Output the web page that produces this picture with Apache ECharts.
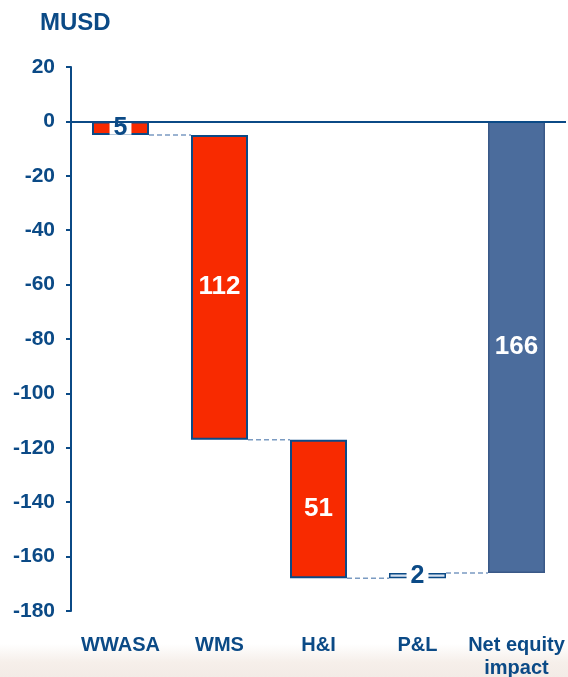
<!DOCTYPE html>
<html>
	<head>
		<meta charset="utf-8">
		<title>waterfall</title>
		<script src="https://cdn.jsdelivr.net/npm/echarts@6/dist/echarts.min.js"></script>
	</head>
	<body style="margin:0">
		<div id="box" style="width: 568px;height: 677px;"></div>
		<script>
			var mCharts = echarts.init(document.querySelector('#box'))

			// data
			var categories = ['WWASA', 'WMS', 'H&I', 'P&L', 'Net equity\nimpact']
			var changes = [-5, -112, -51, 2]
			var netImpact = -166
			var yMin = -180, yMax = 20, yStep = 20

			var dark = '#0b4a86'
			var font = 'Arial, "Liberation Sans", sans-serif'
			var barW = 57

			// waterfall: invisible base + visible bar
			var baseData = [], barData = [], levels = []
			var running = 0
			changes.forEach(function (c, i) {
				var fill = c < 0 ? '#f82a00' : '#d7e2f0'
				var smallBar = Math.abs(c) < 10
				if (c < 0) {
					baseData.push(running)
					running += c
				} else {
					running += c
					baseData.push(running)
				}
				levels.push(running)
				barData.push({
					value: -Math.abs(c),
					itemStyle: { color: fill, borderColor: dark, borderWidth: c > 0 ? 1.5 : 2 },
					label: smallBar ? {
						color: dark, fontSize: 25, backgroundColor: '#fff',
						padding: [0, 4], lineHeight: 13
					} : {}
				})
			})
			baseData.push(0)
			barData.push({
				value: netImpact,
				itemStyle: { color: '#4b6c9c', borderColor: '#3a5887', borderWidth: 1.5 }
			})

			var connectorData = levels.map(function (v, i) { return [i, v] })

			var option = {
				animation: false,
				title: {
					text: 'MUSD', left: 35, top: 6,
					textStyle: { color: dark, fontSize: 24, fontWeight: 'bold', fontFamily: font }
				},
				graphic: [{
					type: 'rect', z: -10, silent: true,
					shape: { x: 0, y: 644, width: 568, height: 33 },
					style: {
						fill: new echarts.graphic.LinearGradient(0, 0, 0, 1, [
							{ offset: 0, color: '#ffffff' },
							{ offset: 0.55, color: '#f6efea' },
							{ offset: 1, color: '#f3ebe6' }
						])
					}
				}],
				grid: { left: 71, right: 2, top: 67, bottom: 66, outerBoundsMode: 'none' },
				xAxis: {
					type: 'category',
					data: categories,
					axisLine: { show: false },
					axisTick: { show: false },
					axisLabel: {
						color: dark, fontSize: 20, fontWeight: 'bold', fontFamily: font,
						margin: 23, lineHeight: 23, interval: 0
					}
				},
				yAxis: {
					type: 'value',
					min: yMin, max: yMax, interval: yStep,
					axisLine: { show: true, lineStyle: { color: dark, width: 2 } },
					axisTick: { show: true, length: 5, lineStyle: { color: dark, width: 2 } },
					splitLine: { show: false },
					axisLabel: {
						color: dark, fontSize: 21, fontWeight: 'bold', fontFamily: font, margin: 16
					}
				},
				series: [
					{
						type: 'bar', stack: 'wf', barWidth: barW,
						data: baseData,
						itemStyle: { color: 'transparent' },
						emphasis: { disabled: true },
						silent: true,
						markLine: {
							silent: true,
							symbol: ['none', 'none'],
							label: { show: false },
							lineStyle: { color: dark, width: 2, type: 'solid' },
							data: [{ yAxis: 0 }]
						}
					},
					{
						type: 'bar', stack: 'wf', barWidth: barW,
						data: barData,
						emphasis: { disabled: true },
						label: {
							show: true, position: 'inside',
							color: '#fff', fontSize: 26, fontWeight: 'bold', fontFamily: font,
							formatter: function (p) { return Math.abs(p.value) }
						}
					},
					{
						type: 'custom',
						data: connectorData,
						silent: true,
						renderItem: function (params, api) {
							var p = api.coord([api.value(0), api.value(1)])
							var bw = api.size([1, 0])[0]
							return {
								type: 'line',
								shape: { x1: p[0] + barW / 2, y1: p[1], x2: p[0] + bw - barW / 2, y2: p[1] },
								style: { stroke: '#7b9bc2', lineWidth: 1.5, lineDash: [5, 3] }
							}
						}
					}
				]
			}
			mCharts.setOption(option)
		</script>
	</body>
</html>
